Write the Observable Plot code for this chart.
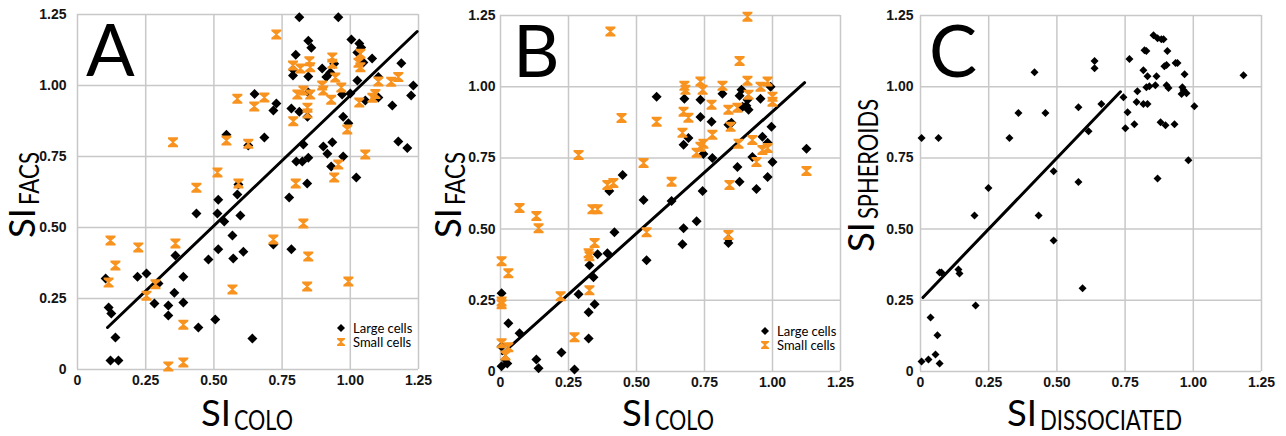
<!DOCTYPE html>
<html><head><meta charset="utf-8">
<script src="https://cdn.jsdelivr.net/npm/d3@7"></script>
<script src="https://cdn.jsdelivr.net/npm/@observablehq/plot@0.6"></script>
<style>
body{margin:0;background:#fff;}
#wrap{position:relative;width:1286px;height:436px;display:flex;}
#wrap > svg{flex:none;}
#overlay{position:absolute;left:0;top:0;pointer-events:none;}
</style></head><body><div id="wrap"></div>
<script>
// ---------- DATA ----------
const ticks = [0, 0.25, 0.5, 0.75, 1, 1.25];
const tickLabels = ["0", "0.25", "0.50", "0.75", "1.00", "1.25"];

// Panel A: SI_COLO (x) vs SI_FACS (y)
const aLarge = [
[0.649,0.97],[0.546,0.827],[0.626,0.789],[0.59,0.651],[0.586,0.616],[0.516,0.598],
[0.813,1.24],[0.956,1.24],[0.846,1.158],[0.857,1.133],[1.004,1.162],[1.033,1.148],
[1.04,1.134],[1.026,1.116],[1.048,1.081],[1.08,1.095],[1.187,1.078],[1.103,1.03],
[1.026,1.018],[1.231,1.0],[1.223,0.965],[1.154,0.93],[1.103,0.958],[1.055,0.947],
[1.0,0.972],[0.97,0.968],[0.8,1.108],[0.79,1.056],[0.79,1.035],[0.897,1.06],
[0.846,1.032],[0.846,0.975],[0.912,1.03],[0.941,1.077],[0.927,1.046],[0.784,0.919],
[0.813,0.908],[0.843,0.89],[0.974,0.89],[0.993,0.867],[0.685,0.817],[0.828,0.792],
[0.901,0.785],[0.916,0.76],[0.934,0.8],[0.974,0.75],[1.176,0.803],[1.209,0.78],
[0.802,0.732],[0.824,0.732],[0.846,0.746],[0.93,0.715],[1.022,0.676],[0.842,0.655],
[0.776,0.606],[0.729,0.937],[0.718,0.912],[0.436,0.549],[0.513,0.549],[0.597,0.542],
[0.538,0.521],[0.568,0.472],[0.516,0.423],[0.608,0.415],[0.48,0.387],[0.571,0.391],
[0.359,0.401],[0.103,0.32],[0.22,0.327],[0.253,0.338],[0.297,0.303],[0.388,0.327],
[0.355,0.27],[0.282,0.232],[0.388,0.236],[0.333,0.225],[0.114,0.218],[0.124,0.197],
[0.333,0.19],[0.443,0.148],[0.505,0.176],[0.139,0.113],[0.641,0.109],[0.121,0.032],
[0.15,0.032],[0.718,0.44],[0.784,0.423]
];
const aSmall = [
[0.35,0.80],[0.586,0.953],[0.648,0.926],[0.546,0.806],[0.626,0.795],[0.513,0.694],
[0.436,0.64],[0.59,0.655],[0.729,1.18],[1.037,1.112],[1.03,1.08],[1.037,1.064],
[1.176,1.03],[1.15,1.013],[1.103,1.014],[1.092,0.97],[1.081,0.957],[1.033,0.94],
[0.967,0.993],[0.93,0.95],[0.934,1.099],[0.934,1.077],[0.945,1.028],[0.85,1.085],
[0.853,1.064],[0.79,1.07],[0.817,1.06],[0.806,0.968],[0.828,0.982],[0.853,0.968],
[0.897,1.0],[0.901,0.982],[0.843,0.922],[0.843,0.901],[0.791,0.874],[0.989,0.845],
[1.055,0.757],[0.956,0.722],[0.941,0.676],[0.8,0.655],[0.685,0.958],[0.359,0.444],
[0.223,0.43],[0.121,0.454],[0.139,0.366],[0.114,0.306],[0.286,0.3],[0.253,0.26],
[0.568,0.282],[0.388,0.158],[0.333,0.011],[0.388,0.025],[0.828,0.514],[0.718,0.458],
[0.846,0.398],[0.842,0.292],[0.993,0.31]
];
const aTrendX = [0.11, 1.245];
const aTrendY = [0.148, 1.19];

// Panel B: SI_COLO (x) vs SI_FACS (y)
const bLarge = [
[0.40,0.634],[0.449,0.69],[0.526,0.602],[0.993,1.0],[0.574,0.965],[0.676,0.958],
[0.735,0.954],[0.816,0.975],[0.879,0.968],[0.886,0.989],[0.908,0.954],[0.89,0.93],
[0.912,0.919],[0.904,0.933],[0.956,0.958],[0.735,0.894],[0.776,0.877],[0.838,0.866],
[0.849,0.873],[0.996,0.859],[0.691,0.82],[0.673,0.796],[0.746,0.764],[0.779,0.75],
[0.963,0.824],[0.982,0.803],[0.926,0.753],[1.0,0.736],[1.125,0.782],[0.871,0.718],
[0.879,0.666],[0.982,0.683],[0.941,0.641],[0.743,0.634],[0.629,0.599],[0.673,0.503],
[0.721,0.528],[0.669,0.447],[0.838,0.465],[0.838,0.451],[0.537,0.391],[0.004,0.275],
[0.029,0.169],[0.07,0.134],[0.004,0.088],[0.018,0.042],[0.025,0.028],[0.004,0.018],
[0.132,0.042],[0.14,0.011],[0.224,0.067],[0.272,0.007],[0.324,0.116],[0.287,0.271],
[0.324,0.208],[0.346,0.236],[0.327,0.373],[0.342,0.331],[0.357,0.412],[0.393,0.415],
[0.419,0.489]
];
const bSmall = [
[0.404,1.194],[0.445,0.89],[0.287,0.76],[0.526,0.732],[0.393,0.655],[0.415,0.662],
[0.908,1.246],[0.879,1.09],[0.908,1.021],[0.735,1.018],[0.676,1.003],[0.68,0.989],
[0.743,0.989],[0.816,1.003],[0.956,1.0],[0.982,1.018],[1.0,0.965],[1.0,0.947],
[0.912,0.972],[0.776,0.937],[0.838,0.919],[0.871,0.926],[0.673,0.912],[0.691,0.891],
[0.574,0.877],[0.669,0.838],[0.779,0.831],[0.746,0.80],[0.735,0.789],[0.721,0.768],
[0.875,0.80],[0.926,0.813],[0.963,0.778],[0.982,0.785],[0.941,0.736],[1.125,0.704],
[0.842,0.655],[0.629,0.666],[0.838,0.479],[0.537,0.489],[0.07,0.574],[0.132,0.546],
[0.14,0.503],[0.004,0.387],[0.029,0.345],[0.004,0.246],[0.004,0.236],[0.004,0.099],
[0.029,0.085],[0.018,0.056],[0.272,0.12],[0.221,0.264],[0.327,0.285],[0.324,0.415],
[0.327,0.405],[0.346,0.451],[0.338,0.57],[0.357,0.57],[0.846,0.859]
];
const bTrendX = [0.007, 1.118];
const bTrendY = [0.063, 1.014];

// Panel C: SI_DISSOCIATED (x) vs SI_SPHEROIDS (y)
const cPoints = [
[0.004,0.82],[0.066,0.82],[0.326,0.82],[0.359,0.908],[0.458,0.908],[0.418,1.051],
[0.249,0.644],[0.488,0.703],[0.579,0.928],[0.663,0.939],[0.638,1.09],[0.638,1.065],
[0.616,0.844],[0.579,0.665],[0.766,1.097],[0.744,0.963],[0.759,0.91],[0.751,0.854],
[0.784,0.868],[0.792,0.946],[0.795,0.984],[0.817,0.939],[0.832,0.939],[0.828,0.998],
[0.839,1.002],[0.861,1.005],[0.817,1.058],[0.832,1.037],[0.865,1.037],[0.821,1.128],
[0.828,1.125],[0.854,1.181],[0.869,1.17],[0.883,1.167],[0.891,1.167],[0.905,1.125],
[0.894,1.072],[0.902,1.076],[0.935,1.083],[0.942,1.083],[0.968,1.044],[0.902,1.005],
[0.909,0.995],[0.960,0.998],[0.964,0.988],[0.957,0.974],[0.975,0.977],[1.004,0.931],
[0.880,0.875],[0.898,0.865],[0.931,0.868],[0.982,0.742],[0.869,0.678],[1.184,1.04],
[0.198,0.548],[0.433,0.548],[0.488,0.46],[0.07,0.348],[0.077,0.348],[0.139,0.358],
[0.143,0.344],[0.202,0.232],[0.037,0.19],[0.062,0.127],[0.055,0.06],[0.07,0.028],
[0.004,0.035],[0.029,0.042],[0.594,0.292]
];
const cTrendX = [0.009, 0.733];
const cTrendY = [0.26, 0.982];

const seriesNames = ["Large cells", "Small cells"];
const largeColor = "#000000";
const smallColor = "#F7931E";

// ---------- SYMBOLS ----------
const diamond = {
  draw(ctx, size) {
    const r = Math.sqrt(size / Math.PI);
    ctx.moveTo(0, -r); ctx.lineTo(r, 0); ctx.lineTo(0, r); ctx.lineTo(-r, 0); ctx.closePath();
  }
};
const hourglass = {
  draw(ctx, size) {
    const r = Math.sqrt(size / Math.PI);
    const w = r, h = r, t = r * 0.34, c = r * 0.18;
    ctx.moveTo(-w, -h); ctx.lineTo(w, -h); ctx.lineTo(w, -h + t); ctx.lineTo(c, 0);
    ctx.lineTo(w, h - t); ctx.lineTo(w, h); ctx.lineTo(-w, h); ctx.lineTo(-w, h - t);
    ctx.lineTo(-c, 0); ctx.lineTo(-w, -h + t); ctx.closePath();
  }
};

const fmt = d => tickLabels[ticks.indexOf(d)] ?? String(d);

function panel({large, small, trendX, trendY, width, ml, mr, mt, mb, yPad, rLarge}) {
  const trend = trendX.map((x, i) => ({x, y: trendY[i]}));
  const gridStyle = {stroke: "#c8c8c8", strokeOpacity: 1, strokeWidth: 1.5};
  const marks = [
    Plot.gridX(ticks, gridStyle),
    Plot.gridY(ticks, gridStyle),
    Plot.axisX({ticks, tickSize: 0, tickPadding: 6, tickFormat: fmt, label: null}),
    Plot.axisY({ticks, tickSize: 0, tickPadding: yPad, tickFormat: fmt, label: null}),
    Plot.line(trend, {x: "x", y: "y", stroke: "#000", strokeWidth: 3})
  ];
  marks.push(Plot.dot(large, {x: d => d[0], y: d => d[1], symbol: diamond, r: rLarge, fill: largeColor, stroke: "none"}));
  if (small) marks.push(Plot.dot(small, {x: d => d[0], y: d => d[1], symbol: hourglass, r: 5, fill: smallColor, stroke: "none"}));
  return Plot.plot({
    width, height: 436,
    marginLeft: ml, marginRight: mr, marginTop: mt, marginBottom: mb,
    x: {domain: [0, 1.25]},
    y: {domain: [0, 1.25]},
    style: {fontFamily: "'Liberation Sans', Arial, sans-serif", fontSize: "14px", fontWeight: "bold", color: "#141414", background: "transparent", overflow: "visible"},
    marks
  });
}

const wrap = document.getElementById("wrap");
wrap.appendChild(panel({large: aLarge, small: aSmall, trendX: aTrendX, trendY: aTrendY, width: 430, ml: 77, mr: 12, mt: 14, mb: 67, yPad: 11, rLarge: 5}));
wrap.appendChild(panel({large: bLarge, small: bSmall, trendX: bTrendX, trendY: bTrendY, width: 430, ml: 70, mr: 20, mt: 15, mb: 65, yPad: 5, rLarge: 5}));
wrap.appendChild(panel({large: cPoints, small: null, trendX: cTrendX, trendY: cTrendY, width: 426, ml: 60, mr: 25, mt: 15, mb: 65, yPad: 7, rLarge: 4}));

// ---------- OVERLAY TEXT ----------
const ov = d3.select(wrap).append("svg").attr("id", "overlay").attr("width", 1286).attr("height", 436)
  .style("font-family", "Lato, 'Open Sans', sans-serif");

// panel letters
[["A", 86, 76], ["B", 513, 77], ["C", 929, 77]].forEach(([t, x, y]) => {
  ov.append("text").attr("x", x).attr("y", y).attr("font-size", 72).attr("fill", "#000").text(t);
});

// axis title "SI" + subscript, drawn in a group (optionally rotated)
function label(transform, sub, subLen) {
  const g = ov.append("g").attr("transform", transform);
  g.append("text").attr("x", 0).attr("y", 0).attr("font-size", 36)
    .attr("textLength", 30).attr("lengthAdjust", "spacingAndGlyphs").text("SI");
  g.append("text").attr("x", 33).attr("y", 4).attr("font-size", 26)
    .attr("textLength", subLen).attr("lengthAdjust", "spacingAndGlyphs").text(sub);
}
// x labels
label("translate(201,426)", "COLO", 59);
label("translate(622,426)", "COLO", 59);
label("translate(1007,426)", "DISSOCIATED", 142);
// y labels
label("translate(35,238) rotate(-90)", "FACS", 53);
label("translate(461,238) rotate(-90)", "FACS", 53);
label("translate(874,252) rotate(-90)", "SPHEROIDS", 120);

// legends
function legend(x, y) {
  const symD = d3.symbol(diamond, Math.PI * 16);
  const symH = d3.symbol(hourglass, Math.PI * 16);
  ov.append("path").attr("d", symD()).attr("transform", `translate(${x},${y})`).attr("fill", largeColor);
  ov.append("path").attr("d", symH()).attr("transform", `translate(${x},${y + 14})`).attr("fill", smallColor);
  ov.append("text").attr("x", x + 12).attr("y", y + 4.5).attr("font-size", 13).text(seriesNames[0]);
  ov.append("text").attr("x", x + 12).attr("y", y + 18.5).attr("font-size", 13).text(seriesNames[1]);
}
legend(341, 328);
legend(765, 331);
</script></body></html>
